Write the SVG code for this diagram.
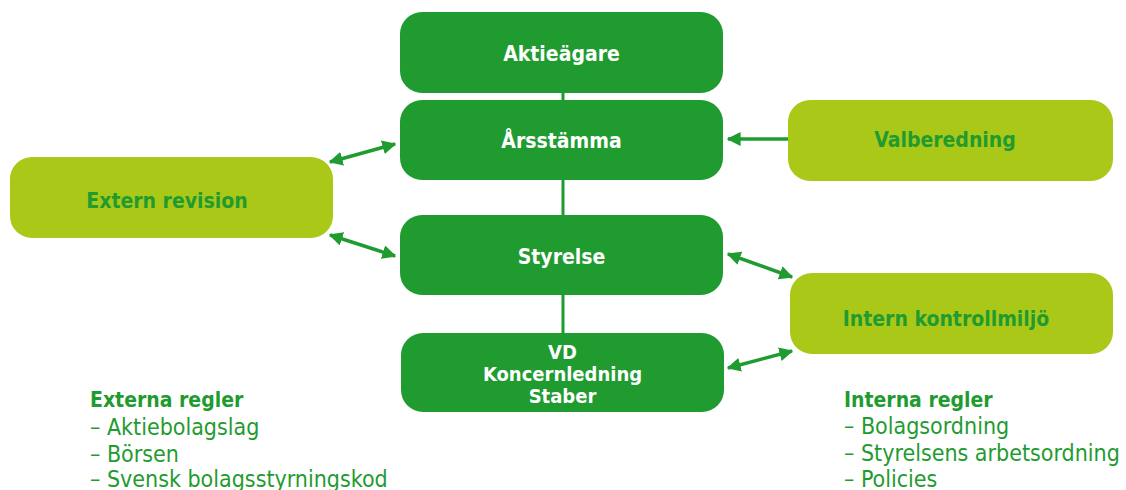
<svg xmlns="http://www.w3.org/2000/svg" width="1126" height="490" viewBox="0 0 1126 490">
<style>
.dk{fill:#1F9B30}
.lt{fill:#AAC818}
.t{font-family:"Liberation Sans Narrow","DejaVu Sans Condensed","Liberation Sans",sans-serif;font-weight:bold;font-size:21px;text-anchor:middle}
.w{fill:#fff}
.g{fill:#1F9B30}
.h{font-family:"Liberation Sans Narrow","DejaVu Sans Condensed","Liberation Sans",sans-serif;font-weight:bold;font-size:21px;fill:#1F9B30}
.r{font-family:"Liberation Sans Narrow","DejaVu Sans Condensed","Liberation Sans",sans-serif;font-size:23px;fill:#1F9B30}
.c{stroke:#1F9B30;stroke-width:3.5;fill:none}
</style>
<defs>
<marker id="ah" viewBox="0 0 10 10" refX="9" refY="5" markerWidth="4" markerHeight="4" orient="auto-start-reverse" markerUnits="strokeWidth">
<path d="M0,0 L10,5 L0,10 Z" fill="#1F9B30"/>
</marker>
</defs>
<g id="connectors">
<line class="c" x1="563" y1="90" x2="563" y2="336" style="stroke-width:3"/>
<line class="c" x1="330" y1="162" x2="395" y2="144" marker-start="url(#ah)" marker-end="url(#ah)"/>
<line class="c" x1="330" y1="235" x2="395" y2="256" marker-start="url(#ah)" marker-end="url(#ah)"/>
<line class="c" x1="788" y1="139" x2="728" y2="139" marker-end="url(#ah)"/>
<line class="c" x1="728" y1="254" x2="792" y2="277" marker-start="url(#ah)" marker-end="url(#ah)"/>
<line class="c" x1="728" y1="368" x2="792" y2="351" marker-start="url(#ah)" marker-end="url(#ah)"/>
</g>
<g id="aktieagare"><rect class="dk" x="400" y="12" width="323" height="81" rx="22"/><text class="t w" x="561.5" y="61">Aktieägare</text></g>
<g id="arsstamma"><rect class="dk" x="400" y="100" width="323" height="80" rx="22"/><text class="t w" x="561.5" y="148">Årsstämma</text></g>
<g id="styrelse"><rect class="dk" x="400" y="215" width="323" height="80" rx="22"/><text class="t w" x="561.5" y="264">Styrelse</text></g>
<g id="vd"><rect class="dk" x="401" y="333" width="323" height="79" rx="22"/>
<text class="t w" x="562.5" y="359" style="font-size:20px">VD</text>
<text class="t w" x="562.5" y="381" style="font-size:20px">Koncernledning</text>
<text class="t w" x="562.5" y="403" style="font-size:20px">Staber</text></g>
<g id="extern-revision"><rect class="lt" x="10" y="157" width="323" height="81" rx="22"/><text class="t g" x="167" y="208">Extern revision</text></g>
<g id="valberedning"><rect class="lt" x="788" y="100" width="325" height="81" rx="22"/><text class="t g" x="945" y="147">Valberedning</text></g>
<g id="intern-kontrollmiljo"><rect class="lt" x="790" y="273" width="323" height="81" rx="22"/><text class="t g" x="946" y="326">Intern kontrollmiljö</text></g>
<g id="externa-regler">
<text class="h" x="90" y="407">Externa regler</text>
<text class="r" x="90" y="435">– Aktiebolagslag</text>
<text class="r" x="90" y="462">– Börsen</text>
<text class="r" x="90" y="487">– Svensk bolagsstyrningskod</text>
</g>
<g id="interna-regler">
<text class="h" x="844" y="407">Interna regler</text>
<text class="r" x="844" y="434">– Bolagsordning</text>
<text class="r" x="844" y="461">– Styrelsens arbetsordning</text>
<text class="r" x="844" y="487">– Policies</text>
</g>
</svg>
